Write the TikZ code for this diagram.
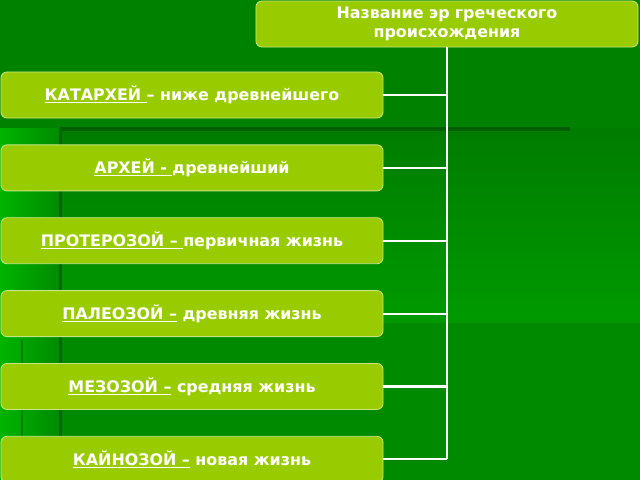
\documentclass[tikz,border=0pt]{standalone}
\usepackage{fontspec}
\setmainfont{DejaVu Sans}
\usepackage{tikz}
\usetikzlibrary{positioning}
\definecolor{bgbase}{HTML}{008A00}
\definecolor{bgtop}{HTML}{008200}
\definecolor{bglight}{HTML}{009A00}
\definecolor{bgleft}{HTML}{00B400}
\definecolor{bgdark}{HTML}{005E00}
\definecolor{boxfill}{HTML}{99CC00}
\definecolor{boxedge}{HTML}{C6E585}
\tikzstyle{era} = [rectangle, rounded corners=0.15cm, minimum width=9.55cm, minimum height=1.15cm, text centered, draw=boxedge, line width=0.6pt, fill=boxfill, text=white, font=\bfseries\fontsize{11.3}{14}\selectfont]
\tikzstyle{bus} = [white, line width=1.5pt]

\begin{document}
\begin{tikzpicture}[x=0.025cm, y=-0.025cm, node distance=0.65cm]
    % Background
    \useasboundingbox (0,0) rectangle (640,480);
    \fill[bgbase] (0,0) rectangle (640,480);
    \fill[bgtop] (0,0) rectangle (640,128);
    \shade[top color=bgbase!90!black, bottom color=bglight] (60,128) rectangle (640,322);
    \shade[left color=bgleft, right color=bgbase] (0,128) rectangle (60,480);
    \fill[bgdark] (60,127) rectangle (570,131);
    \fill[bgdark!80!bgbase] (59,128) rectangle (61.5,480);
    \fill[bgdark!60!bgleft] (21,340) rectangle (23,480);

    % Title
    \node[era, text width=9cm] (title) at (447,24) {Название эр греческого\\происхождения};

    % Eras
    \node[era] (kat) at (192,95) {\underline{КАТАРХЕЙ\ }– ниже древнейшего};
    \node[era, below=of kat] (arch) {\underline{АРХЕЙ -\ }древнейший};
    \node[era, below=of arch] (prot) {\underline{ПРОТЕРОЗОЙ –\ }первичная жизнь};
    \node[era, below=of prot] (pal) {\underline{ПАЛЕОЗОЙ –} древняя жизнь};
    \node[era, below=of pal] (mez) {\underline{МЕЗОЗОЙ –} средняя жизнь};
    \node[era, below=of mez] (kain) {\underline{КАЙНОЗОЙ –} новая жизнь};

    % Connectors
    \draw[bus] (title.south) -- (title.south |- kain.east);
    \draw[bus] (kat.east) -- (kat.east -| title.south);
    \draw[bus] (arch.east) -- (arch.east -| title.south);
    \draw[bus] (prot.east) -- (prot.east -| title.south);
    \draw[bus] (pal.east) -- (pal.east -| title.south);
    \draw[bus] (mez.east) -- (mez.east -| title.south);
    \draw[bus] (kain.east) -- (kain.east -| title.south);

\end{tikzpicture}
\end{document}
